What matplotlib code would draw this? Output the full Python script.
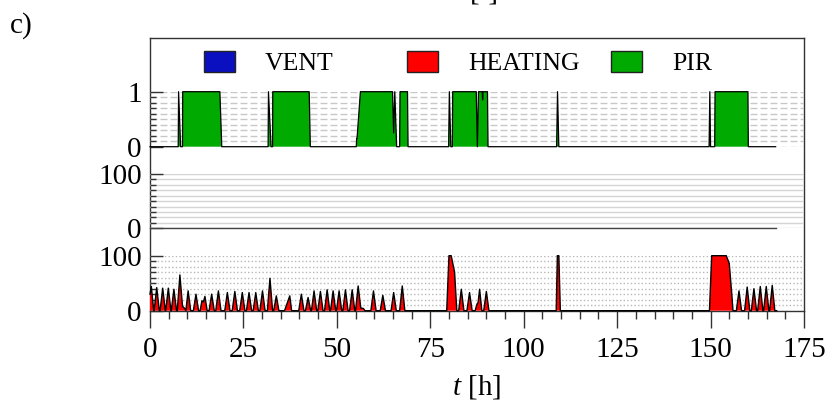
import matplotlib
matplotlib.use("Agg")
import matplotlib.pyplot as plt
from matplotlib.patches import Rectangle
from matplotlib.ticker import MultipleLocator, FixedLocator, NullLocator

# ---- data -------------------------------------------------------------
# occupancy sensor (PIR) state, 0/1
pir_t = [0.0, 7.55, 7.65, 8.2, 8.7, 8.75, 18.7, 19.2,
         31.6, 31.7, 32.4, 32.8, 32.85, 42.6, 42.9,
         55.2, 55.3, 55.4, 56.3, 64.9, 65.2, 65.5, 66.0, 66.8, 66.9, 68.9, 69.05,
         79.9, 80.1, 80.5, 80.9, 81.0, 87.3, 87.6, 87.9, 88.9, 89.0, 89.1, 90.3, 90.45,
         108.8, 109.05, 109.4,
         149.6, 149.8, 150.0, 151.1, 151.2, 160.0, 160.1, 167.4]
pir_v = [0, 0, 1, 0, 0, 1, 1, 0,
         0, 1, 0, 0, 1, 1, 0,
         0, 0.15, 0.15, 1, 1, 0.25, 1, 0, 0, 1, 1, 0,
         0, 1, 0, 0, 1, 1, 0, 1, 1, 0.85, 1, 1, 0,
         0, 1, 0,
         0, 1, 0, 0, 1, 1, 0, 0]

# ventilation output [%]
vent_t = [0.0, 167.6]
vent_v = [0, 0]

# heating output [%]
heat_t = [0.0, 0.35, 1.0,
          1.1, 1.8, 2.5,
          2.7, 3.4, 4.1,
          4.2, 4.9, 5.6,
          5.7, 6.4, 7.1,
          7.3, 8.0, 8.7, 9.3, 9.6,
          9.6, 10.2, 10.9,
          11.6, 12.3, 13.0,
          13.4, 13.9, 14.3, 14.7, 15.3,
          15.8, 16.5, 17.2,
          17.6, 18.3, 19.0,
          20.0, 20.7, 21.4,
          22.0, 22.7, 23.4,
          24.0, 24.7, 25.4,
          25.8, 26.5, 27.2,
          27.6, 28.3, 29.0,
          29.4, 30.1, 30.8,
          31.4, 32.1, 32.8,
          33.1, 33.8, 34.5,
          36.0, 37.4, 37.9,
          39.8, 40.5, 41.2,
          41.6, 42.3, 43.0,
          43.2, 43.9, 44.6,
          44.9, 45.6, 46.3,
          46.7, 47.4, 48.1,
          48.3, 49.0, 49.7,
          49.9, 50.6, 51.3,
          51.6, 52.3, 53.0,
          53.4, 54.1, 54.8,
          55.0, 55.7, 56.4, 57.1, 57.5,
          59.1, 59.8, 60.5,
          61.6, 62.3, 63.0,
          64.5, 65.2, 65.9,
          66.8, 67.5, 68.2,
          79.4, 80.0, 80.6, 81.5, 82.1,
          82.6, 83.3, 84.0,
          84.8, 85.5, 86.2,
          87.0, 87.5, 87.8, 88.2, 88.8,
          89.3, 90.0, 90.7,
          108.7, 109.0, 109.4, 109.8,
          149.7, 150.3, 154.2, 155.0, 155.7, 156.0,
          156.9, 157.6, 158.3,
          159.1, 159.8, 160.5,
          160.9, 161.6, 162.3,
          162.6, 163.3, 164.0,
          164.2, 164.9, 165.6,
          165.8, 166.5, 167.2,
          167.7]
heat_v = [30, 44, 0,
          0, 42, 0,
          0, 41, 0,
          0, 41, 0,
          0, 39, 0,
          0, 65, 8, 4, 0,
          0, 36, 0,
          0, 30, 0,
          0, 18, 16, 26, 0,
          0, 30, 0,
          0, 36, 0,
          0, 33, 0,
          0, 35, 0,
          0, 33, 0,
          0, 33, 0,
          0, 33, 0,
          0, 36, 0,
          0, 59, 0,
          0, 27, 0,
          0, 27, 0,
          0, 30, 0,
          0, 24, 0,
          0, 36, 0,
          0, 35, 0,
          0, 38, 0,
          0, 36, 0,
          0, 36, 0,
          0, 38, 0,
          0, 38, 0,
          0, 45, 5, 4, 0,
          0, 36, 0,
          0, 28, 0,
          0, 33, 0,
          0, 45, 0,
          0, 100, 100, 70, 0,
          0, 39, 0,
          0, 33, 0,
          0, 12, 15, 39, 0,
          0, 35, 0,
          0, 100, 100, 0,
          0, 100, 100, 86, 28, 0,
          0, 36, 0,
          0, 43, 0,
          0, 40, 0,
          0, 44, 0,
          0, 44, 0,
          0, 46, 0,
          0]

x_ticks = [0, 25, 50, 75, 100, 125, 150, 175]
legend_labels = ["VENT", "HEATING", "PIR"]
legend_colors = ["#0a10c0", "#ff0000", "#00aa00"]

# ---- styling ------------------------------------------------------------
plt.rcParams["font.family"] = ["Liberation Serif", "DejaVu Serif"]
plt.rcParams["mathtext.fontset"] = "custom"
plt.rcParams["mathtext.it"] = "Liberation Serif:italic"
plt.rcParams["mathtext.rm"] = "Liberation Serif"

W, H = 829, 409
fig = plt.figure(figsize=(W / 100, H / 100), dpi=100)


def box(x0, y0, x1, y1):
    return [x0 / W, 1 - y1 / H, (x1 - x0) / W, (y1 - y0) / H]


LABEL_FS = 21
SPINE = "#333333"

# frame with the shared time axis
ax = fig.add_axes(box(150, 37.7, 804, 310.7))
ax.set_xlim(0, 175)
ax.set_ylim(0, 1)
ax.yaxis.set_major_locator(NullLocator())
ax.xaxis.set_major_locator(FixedLocator(x_ticks))
ax.xaxis.set_minor_locator(MultipleLocator(5))
ax.tick_params(axis="x", which="major", direction="out", length=12, width=1,
               color=SPINE, labelsize=LABEL_FS, pad=7)
ax.tick_params(axis="x", which="minor", direction="out", length=5.5, width=1,
               color=SPINE)
for s in ax.spines.values():
    s.set_color(SPINE)
    s.set_linewidth(1)
ax.set_xlabel(r"$t$ [h]", fontsize=LABEL_FS, labelpad=7)


def band(y_top, y_bottom, top_value, grid_style, grid_color):
    b = fig.add_axes(box(150, y_top, 804, y_bottom))
    b.set_xlim(0, 175)
    b.set_ylim(0, top_value)
    b.patch.set_alpha(0)
    for s in b.spines.values():
        s.set_visible(False)
    b.xaxis.set_major_locator(NullLocator())
    b.yaxis.set_major_locator(FixedLocator([0, top_value]))
    b.yaxis.set_minor_locator(MultipleLocator(top_value / 10))
    b.set_yticklabels(["0", f"{top_value:g}"])
    b.tick_params(axis="y", which="major", direction="in", length=9, width=1,
                  color=SPINE, labelsize=LABEL_FS, pad=6)
    b.tick_params(axis="y", which="minor", direction="in", length=4.5, width=1,
                  color=SPINE)
    b.set_axisbelow(True)
    b.grid(axis="y", which="both", linestyle=grid_style, color=grid_color,
           linewidth=1)
    return b


ax_pir = band(91.7, 146.7, 1, (0, (5, 2.2)), "#c8c8c8")
ax_vent = band(174.0, 228.3, 100, "-", "#d4d4d4")
ax_heat = band(255.7, 310.7, 100, (0, (1, 1.6)), "#b8b8b8")

ax_pir.fill_between(pir_t, 0, pir_v, facecolor=legend_colors[2],
                    edgecolor="none", clip_on=False, zorder=3)
ax_pir.plot(pir_t, pir_v, color="black", lw=0.9, clip_on=False, zorder=4)

ax_vent.fill_between(vent_t, 0, vent_v, facecolor=legend_colors[0],
                     edgecolor="none", clip_on=False, zorder=3)
ax_vent.plot(vent_t, vent_v, color="#444444", lw=1.0, clip_on=False, zorder=4)

ax_heat.fill_between(heat_t, 0, heat_v, facecolor=legend_colors[1],
                     edgecolor="none", clip_on=False, zorder=3)
ax_heat.plot(heat_t, heat_v, color="black", lw=1.0, clip_on=False, zorder=4)

# legend row inside the frame
for (px, tx), lab, col in zip([(204, 265), (407, 468), (611, 672)],
                              legend_labels, legend_colors):
    fig.add_artist(Rectangle((px / W, 1 - 72.3 / H), 31 / W, 21.6 / H,
                             transform=fig.transFigure, facecolor=col,
                             edgecolor="#222222", linewidth=1))
    fig.text(tx / W, 1 - 61.5 / H, lab, fontsize=18.5, ha="left",
             va="center_baseline")

fig.text(10 / W, 1 - 22 / H, "c)", fontsize=LABEL_FS, ha="left",
         va="center_baseline")
fig.text(484 / W, 1.0, "[-]", fontsize=LABEL_FS, ha="center", va="baseline")

fig.savefig("out.png", dpi=100)
